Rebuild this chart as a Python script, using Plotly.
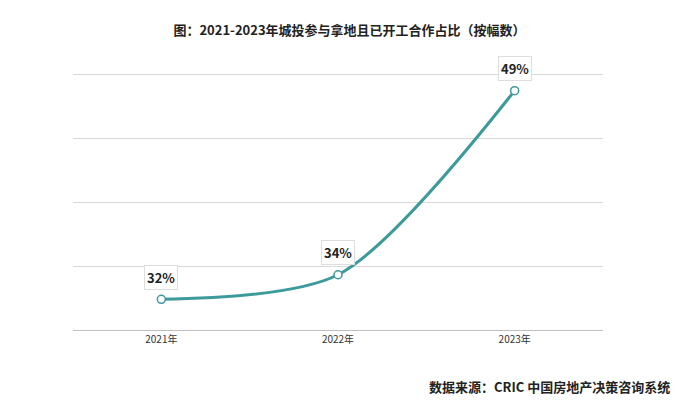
import plotly.graph_objects as go

years = ['2021年', '2022年', '2023年']
share = [32, 34, 49]
labels = ['32%', '34%', '49%']

teal = '#3d9a9b'
font = 'Noto Sans CJK SC'

fig = go.Figure(go.Scatter(
    x=years, y=share, mode='lines+markers',
    line=dict(color=teal, width=3, shape='spline', smoothing=0.8),
    marker=dict(size=8, color='white', line=dict(color=teal, width=1.5)),
    hoverinfo='skip'))

for x, y, t in zip(years, share, labels):
    fig.add_annotation(x=x, y=y, text='<b>' + t + '</b>', showarrow=False, yshift=22,
                       font=dict(size=13, color='#222', family=font),
                       bgcolor='white', bordercolor='#dddddd', borderwidth=1, borderpad=2)

fig.update_layout(
    width=683, height=408, plot_bgcolor='white', paper_bgcolor='white',
    margin=dict(l=65, r=88, t=63, b=86), showlegend=False,
    title=dict(text='<b>图：2021-2023年城投参与拿地且已开工合作占比（按幅数）</b>',
               x=0.5, xanchor='center', y=0.955, font=dict(size=13, color='#222', family=font)),
    xaxis=dict(range=[-0.5, 2.5], showgrid=False, showline=True, linecolor='#bfbfbf', linewidth=1,
               ticks='', tickfont=dict(size=10, color='#333', family=font)),
    yaxis=dict(range=[29.5, 50.6], tick0=29.5, dtick=5.2, showticklabels=False,
               gridcolor='#d9d9d9', zeroline=False),
)
fig.add_annotation(text='<b>数据来源：CRIC 中国房地产决策咨询系统</b>', xref='paper', yref='paper',
                   x=1.13, y=-0.22, xanchor='right', yanchor='middle', showarrow=False,
                   font=dict(size=13, color='#222', family=font))
fig.write_html('out.html')
